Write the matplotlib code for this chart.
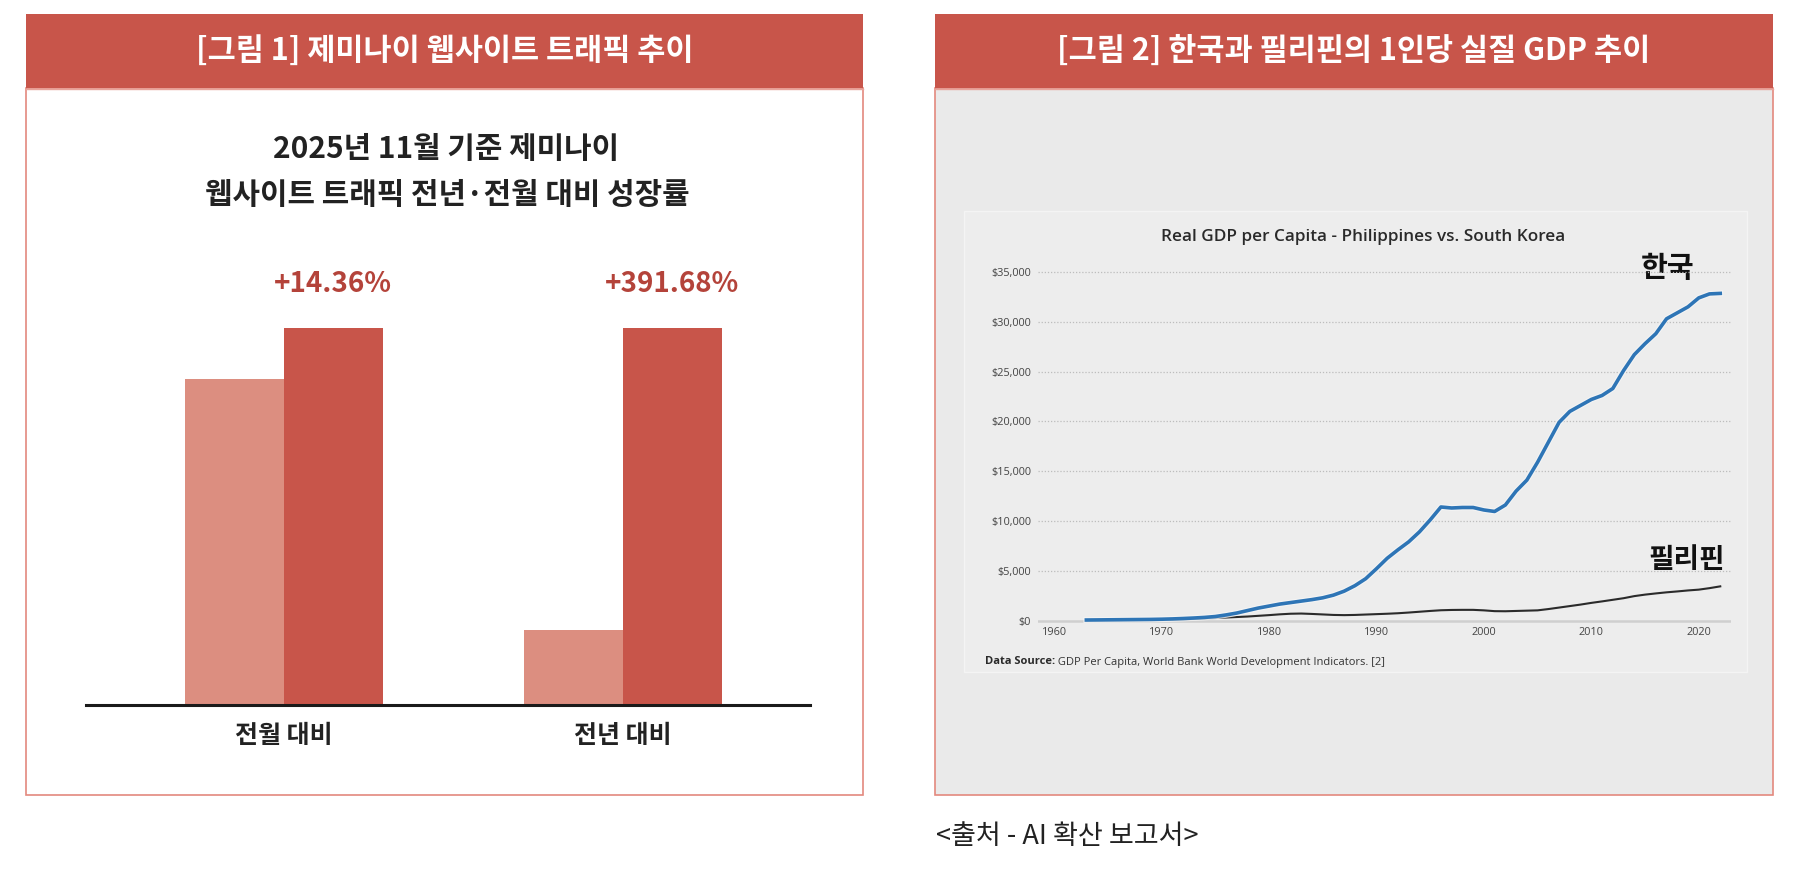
import matplotlib
matplotlib.use('Agg')
import matplotlib.pyplot as plt
from matplotlib.patches import Rectangle
import matplotlib.patheffects as pe

plt.rcParams['font.family'] = ['Noto Sans CJK KR', 'DejaVu Sans']

W, H = 1799, 891

# figure 1 data (bar heights, current month = 100)
categories = ['전월 대비', '전년 대비']
growth_labels = ['+14.36%', '+391.68%']
prev_vals = [86.5, 20.0]
curr_vals = [100, 100]

# figure 2 data (real GDP per capita, USD)
years = list(range(1963, 2023))
korea = [50, 60, 70, 80, 90, 100, 110, 130, 160, 200,
         250, 310, 400, 560, 750, 1000, 1250, 1450, 1650, 1800,
         1950, 2100, 2280, 2550, 2950, 3500, 4200, 5200, 6250, 7100,
         7900, 8900, 10100, 11400, 11300, 11350, 11350, 11100, 10950, 11600,
         13000, 14100, 15900, 17900, 19900, 21000, 21600, 22200, 22600, 23300,
         25100, 26700, 27800, 28800, 30300, 30900, 31500, 32400, 32800, 32850]
philippines = [20, 25, 30, 35, 40, 45, 50, 60, 80, 110,
               150, 200, 250, 300, 350, 400, 470, 540, 620, 680,
               700, 660, 610, 560, 540, 560, 600, 640, 680, 730,
               800, 880, 960, 1030, 1060, 1070, 1070, 1020, 940, 930,
               960, 990, 1020, 1150, 1300, 1450, 1600, 1770, 1920, 2080,
               2240, 2450, 2600, 2720, 2830, 2920, 3020, 3100, 3250, 3430]
y_ticks = [0, 5000, 10000, 15000, 20000, 25000, 30000, 35000]
y_tick_labels = ['$0', '$5,000', '$10,000', '$15,000', '$20,000', '$25,000', '$30,000', '$35,000']
x_ticks = [1960, 1970, 1980, 1990, 2000, 2010, 2020]

RED = '#C8554A'
LIGHT_RED = '#DC8E80'
BORDER = '#E3897E'
LABEL_RED = '#B4433A'
SMALL_FONT = ['Open Sans', 'DejaVu Sans']


def px_axes(x0, y0, x1, y1):
    # pixel box (top-left origin) -> figure axes
    return fig.add_axes([x0 / W, 1 - y1 / H, (x1 - x0) / W, (y1 - y0) / H])


fig = plt.figure(figsize=(W / 100, H / 100), dpi=100)
fig.patch.set_facecolor('white')

# background layer in pixel coordinates
bg = fig.add_axes([0, 0, 1, 1])
bg.set_xlim(0, W)
bg.set_ylim(H, 0)
bg.axis('off')

# left panel
bg.add_patch(Rectangle((26, 88), 837, 707, facecolor='white', edgecolor=BORDER, lw=1.2))
bg.add_patch(Rectangle((26, 14), 837, 74, facecolor=RED, edgecolor='none'))
bg.plot([26, 863], [88.5, 88.5], color='#E9A49B', lw=1)
bg.text(444.5, 51, '[그림 1] 제미나이 웹사이트 트래픽 추이', color='white', fontsize=22,
        fontweight='bold', ha='center', va='center')
bg.text(446, 149, '2025년 11월 기준 제미나이', color='#222222', fontsize=21.5,
        fontweight='bold', ha='center', va='center')
bg.text(447, 195, '웹사이트 트래픽 전년·전월 대비 성장률', color='#222222', fontsize=21.5,
        fontweight='bold', ha='center', va='center')

# right panel
bg.add_patch(Rectangle((935, 88), 838, 707, facecolor='#EAEAEA', edgecolor=BORDER, lw=1.2))
bg.add_patch(Rectangle((935, 14), 838, 74, facecolor=RED, edgecolor='none'))
bg.plot([935, 1773], [88.5, 88.5], color='#E9A49B', lw=1)
bg.text(1354, 51, '[그림 2] 한국과 필리핀의 1인당 실질 GDP 추이', color='white', fontsize=22,
        fontweight='bold', ha='center', va='center')
bg.add_patch(Rectangle((964, 211), 783, 461, facecolor='#EDEDED', edgecolor='#F4F4F4', lw=1))
bg.text(1363, 237, 'Real GDP per Capita - Philippines vs. South Korea', color='#2A2A2A',
        fontsize=12.3, fontweight='semibold', ha='center', va='center', family=SMALL_FONT)
src = bg.text(985, 662, 'Data Source:', color='#2A2A2A', fontsize=8, fontweight='bold',
              ha='left', va='center', family=SMALL_FONT)
bg.annotate(' GDP Per Capita, World Bank World Development Indicators. [2]', xy=(1, 0.5),
            xycoords=src, color='#333333', fontsize=8, ha='left', va='center', family=SMALL_FONT)
bg.text(1668, 268, '한국', color='#111111', fontsize=21, fontweight='bold', ha='center', va='center')
bg.text(1687, 560, '필리핀', color='#111111', fontsize=20, fontweight='bold', ha='center', va='center')

# source note
bg.text(936, 836, '<출처 - AI 확산 보고서>', color='#222222', fontsize=19.5, fontweight='medium',
        ha='left', va='center')

# bar chart
ax = px_axes(86, 328, 810, 705)
ax.set_facecolor('none')
w = 0.2916
xs = list(range(len(categories)))
ax.bar([x - w / 2 for x in xs], prev_vals, width=w, color=LIGHT_RED, zorder=2)
ax.bar([x + w / 2 for x in xs], curr_vals, width=w, color=RED, zorder=2)
for x, v, lab in zip(xs, curr_vals, growth_labels):
    ax.annotate(lab, (x + w / 2, v), xytext=(0, 32), textcoords='offset points',
                ha='center', va='center', color=LABEL_RED, fontsize=20, fontweight='bold')
ax.set_xlim(-0.582, 1.551)
ax.set_ylim(0, 100)
ax.set_xticks(xs)
ax.set_xticklabels(categories, fontsize=18, fontweight='bold', color='#222222')
ax.tick_params(axis='x', length=0, pad=14)
ax.set_yticks([])
for s in ['left', 'right', 'top']:
    ax.spines[s].set_visible(False)
ax.spines['bottom'].set_linewidth(2.2)
ax.spines['bottom'].set_color('#1A1A1A')
ax.spines['bottom'].set_zorder(3)

# GDP line chart
ax2 = px_axes(1038, 269.5, 1731, 623)
ax2.set_facecolor('none')
ax2.set_xlim(1958.5, 2023)
ax2.set_ylim(-250, 35250)
for yv in y_ticks[1:]:
    ax2.axhline(yv, color='#BDBDBD', lw=0.9, ls=(0, (1, 1.5)), zorder=1)
ax2.axhline(0, color='#CFCFCF', lw=1.8, zorder=1)
ax2.plot(years, philippines, color='#2B2B2B', lw=1.5, zorder=3)
ax2.plot(years, korea, color='#2E75B6', lw=2.6, zorder=4, solid_joinstyle='round',
         path_effects=[pe.Stroke(linewidth=4.2, foreground='#F6F6F6', alpha=0.8), pe.Normal()])
ax2.set_yticks(y_ticks)
ax2.set_yticklabels(y_tick_labels)
ax2.set_xticks(x_ticks)
for lab in ax2.get_xticklabels() + ax2.get_yticklabels():
    lab.set_family(SMALL_FONT)
    lab.set_fontsize(7.8)
    lab.set_color('#444444')
ax2.tick_params(axis='both', length=0)
ax2.tick_params(axis='y', pad=5)
ax2.tick_params(axis='x', pad=3)
for s in ax2.spines.values():
    s.set_visible(False)

fig.savefig('out.png', dpi=100)
